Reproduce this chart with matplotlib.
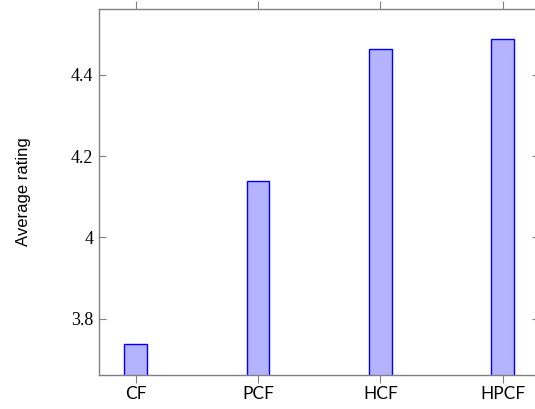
import matplotlib
matplotlib.use("Agg")
import matplotlib.pyplot as plt

categories = ["CF", "PCF", "HCF", "HPCF"]
ratings = [3.738, 4.138, 4.463, 4.487]
yticks = [3.8, 4.0, 4.2, 4.4]
ytick_labels = ["3.8", "4", "4.2", "4.4"]

fig = plt.figure(figsize=(5.35, 4.09), dpi=100)
ax = fig.add_axes([0.185, 0.0839, 0.823, 0.894])

x = list(range(len(categories)))
ax.bar(x, ratings, width=0.185, color="#b3b3ff", edgecolor="#0000ff",
       linewidth=1.0, zorder=2)

ax.set_xlim(-0.3, 3.3)
ax.set_ylim(3.662, 4.5616)

ax.set_xticks(x)
ax.set_xticklabels(categories, family=["Lato", "DejaVu Sans"], fontsize=12.5)
ax.set_yticks(yticks)
ax.set_yticklabels(ytick_labels, family=["Liberation Serif", "DejaVu Serif"],
                   fontsize=13)

gray = "#808080"
for s in ax.spines.values():
    s.set_color(gray)
    s.set_linewidth(1.0)

ax.tick_params(axis="x", direction="out", length=5.5, width=0.8, color=gray,
               top=True, bottom=True, labeltop=False, pad=3)
ax.tick_params(axis="y", direction="in", length=5, width=0.8, color=gray,
               left=True, right=True, pad=4)

ax.set_ylabel("Average rating", family=["Liberation Sans", "DejaVu Sans"],
              fontsize=12, labelpad=29)

fig.savefig("out.png", dpi=100)
